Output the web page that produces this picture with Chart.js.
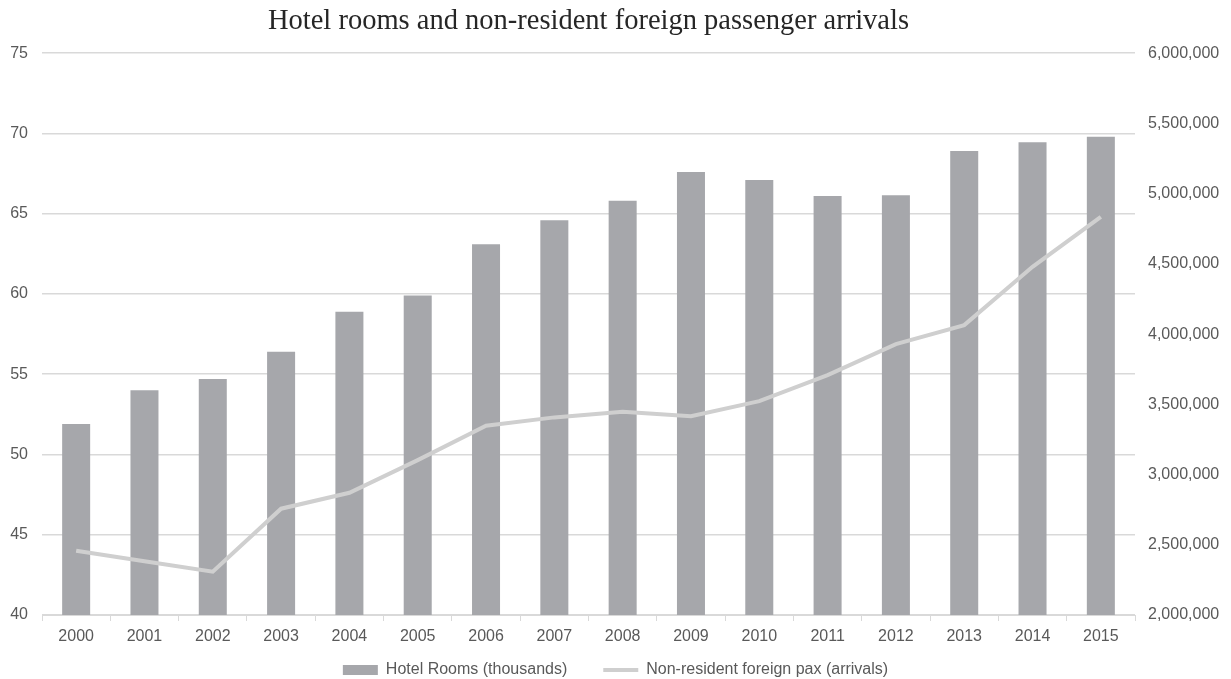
<!DOCTYPE html>
<html>
<head>
<meta charset="utf-8">
<script src="https://cdn.jsdelivr.net/npm/chart.js@4"></script>
<style>
  html, body { margin: 0; padding: 0; background: #ffffff; }
  #wrap { width: 1231px; height: 679px; position: relative; }
</style>
</head>
<body>
<div id="wrap"><canvas id="hotel-rooms-pax"></canvas></div>
<script>
// years on the category axis
const years = [
    "2000", "2001", "2002", "2003", "2004", "2005", "2006", "2007",
    "2008", "2009", "2010", "2011", "2012", "2013", "2014", "2015"
];
// hotel rooms, thousands (left axis)
const hotelRooms = [
    51.9, 54.0, 54.7, 56.4, 58.9, 59.9, 63.1, 64.6,
    65.8, 67.6, 67.1, 66.1, 66.15, 68.9, 69.45, 69.8
];
// non-resident foreign passenger arrivals (right axis)
const paxArrivals = [
    2457000, 2382000, 2308000, 2757000, 2870000, 3103000, 3347000, 3407000,
    3447000, 3416000, 3523000, 3708000, 3929000, 4064000, 4479000, 4835000
];
const roomsTicks = { min: 40, max: 75, step: 5 };
const paxTicks = { min: 2000000, max: 6000000, step: 500000 };

const labelGrey = "#595959";
const lineGrey = "#d9d9d9";
const sansFont = "'Liberation Sans', Arial, sans-serif";

const dataHotel = {
    labels: years,
    datasets: [
        {
            type: "bar",
            label: "Hotel Rooms (thousands)",
            data: hotelRooms,
            backgroundColor: "#a6a7ab",
            borderWidth: 0,
            categoryPercentage: 1.0,
            barPercentage: 0.41,
            pointStyle: "rect",
            yAxisID: "y",
            order: 2,
        },
        {
            type: "line",
            label: "Non-resident foreign pax (arrivals)",
            data: paxArrivals,
            borderColor: "#cfcfcf",
            backgroundColor: "#cfcfcf",
            borderWidth: 4,
            pointRadius: 0,
            pointStyle: "line",
            tension: 0,
            yAxisID: "pax",
            order: 1,
        },
    ],
};

const configHotel = {
    type: "bar",
    data: dataHotel,
    options: {
        responsive: true,
        maintainAspectRatio: false,
        animation: false,
        layout: {
            padding: { top: 4, bottom: -9, left: 0, right: 0 },
        },
        scales: {
            x: {
                offset: true,
                // thin axis box; the year labels sit in the legend's top padding
                afterFit: function (scale) {
                    scale.height = 11;
                },
                grid: {
                    display: true,
                    offset: true,
                    drawOnChartArea: false,
                    drawTicks: true,
                    tickLength: 6,
                    color: lineGrey,
                },
                border: {
                    display: true,
                    color: lineGrey,
                },
                ticks: {
                    // mirror skips the label clip, negative padding pushes them below the axis
                    mirror: true,
                    padding: -31.2,
                    color: labelGrey,
                    font: { family: sansFont, size: 16 },
                },
            },
            y: {
                position: "left",
                min: roomsTicks.min,
                max: roomsTicks.max,
                afterFit: function (scale) {
                    scale.width = 42;
                },
                ticks: {
                    stepSize: roomsTicks.step,
                    color: labelGrey,
                    padding: 14,
                    font: { family: sansFont, size: 16 },
                },
                border: {
                    display: false,
                },
                grid: {
                    color: lineGrey,
                    lineWidth: 1.5,
                    drawTicks: false,
                },
            },
            pax: {
                position: "right",
                min: paxTicks.min,
                max: paxTicks.max,
                afterFit: function (scale) {
                    scale.width = 96;
                },
                ticks: {
                    stepSize: paxTicks.step,
                    color: labelGrey,
                    padding: 13,
                    font: { family: sansFont, size: 16 },
                    callback: function (value) {
                        return value.toLocaleString("en-US");
                    },
                },
                border: {
                    display: false,
                },
                grid: {
                    display: false,
                    drawTicks: false,
                },
            },
        },
        plugins: {
            title: {
                display: true,
                fullSize: false,
                text: "Hotel rooms and non-resident foreign passenger arrivals",
                color: "#262626",
                font: { family: "'Liberation Serif', 'Times New Roman', serif", size: 28.5, weight: "normal" },
                padding: { top: 0, bottom: 15 },
            },
            legend: {
                display: true,
                position: "bottom",
                labels: {
                    usePointStyle: true,
                    pointStyleWidth: 35,
                    boxHeight: 10,
                    padding: 36,
                    color: labelGrey,
                    font: { family: sansFont, size: 16 },
                    sort: function (a, b) {
                        return a.datasetIndex - b.datasetIndex;
                    },
                },
            },
            tooltip: {
                enabled: false,
            },
        },
    },
};

const canvasHotel = document.getElementById("hotel-rooms-pax");
new Chart(canvasHotel, configHotel);
</script>
</body>
</html>
